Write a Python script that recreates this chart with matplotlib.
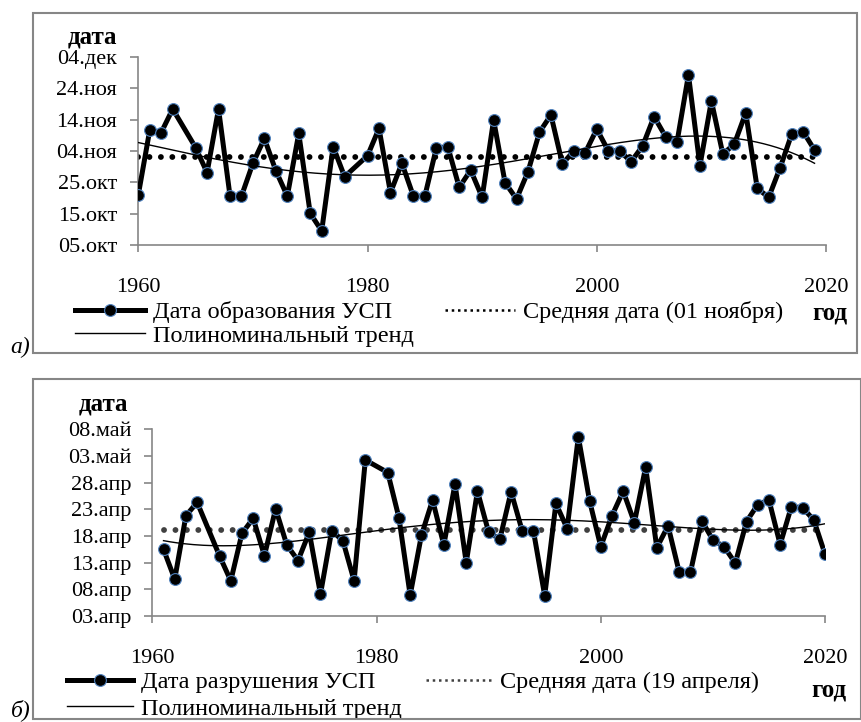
import numpy as np
import matplotlib.pyplot as plt
from matplotlib.lines import Line2D
from matplotlib.patches import Rectangle

plt.rcParams['font.family'] = ['Liberation Serif', 'DejaVu Serif']

# a) ice formation date, days after 05 Oct (nan = no data)
years_a = np.arange(1960, 2020)
form_days = np.array([
    16.0, 36.7, 35.9, 43.4, np.nan, 31.1, 23.1, 43.4, 15.7, 15.6,
    26.1, 34.0, 23.7, 15.6, 35.6, 10.1, 4.5, 31.4, 21.8, np.nan,
    28.5, 37.2, 16.7, 26.1, 15.6, 15.6, 30.9, 31.4, 18.4, 23.9,
    15.2, 39.9, 19.9, 14.7, 23.4, 36.0, 41.5, 25.9, 30.0, 29.5,
    37.0, 30.1, 30.0, 26.6, 31.6, 41.0, 34.6, 32.8, 54.3, 25.3,
    46.0, 29.0, 32.2, 42.2, 18.1, 15.2, 24.7, 35.3, 36.2, 30.3])
ticks_a = ['05.окт', '15.окт', '25.окт', '04.ноя', '14.ноя', '24.ноя', '04.дек']

# b) ice break-up date, days after 03 Apr
years_b = np.arange(1961, 2021)
break_days = np.array([
    12.5, 6.9, 18.8, 21.3, np.nan, 11.25, 6.6, 15.5, 18.3, 11.3,
    20.1, 13.3, 10.4, 15.7, 4.1, 16.0, 14.1, 6.6, 29.25, np.nan,
    26.9, 18.4, 3.9, 15.1, 21.75, 13.3, 24.75, 10.0, 23.4, 15.7,
    14.4, 23.3, 15.9, 15.9, 3.8, 21.1, 16.4, 33.6, 21.6, 13.0,
    18.8, 23.4, 17.5, 27.9, 12.8, 16.9, 8.2, 8.2, 17.9, 14.25,
    13.0, 9.9, 17.7, 20.9, 21.75, 13.4, 20.5, 20.3, 18.0, 11.6])
ticks_b = ['03.апр', '08.апр', '13.апр', '18.апр', '23.апр', '28.апр', '03.май', '08.май']

W, H = 862, 722
fig = plt.figure(figsize=(W / 100, H / 100), dpi=100)
grey = '#868686'


def px_axes(x0, x1, ytop, ybot):
    return fig.add_axes([x0 / W, 1 - ybot / H, (x1 - x0) / W, (ybot - ytop) / H])


def draw_panel(ax, years, vals, ticks, step, mean_color, deg):
    ok = ~np.isnan(vals)
    yrs, v = years[ok], vals[ok]
    mean = v.mean()
    ax.plot([yrs[0], yrs[-1]], [mean, mean], color=mean_color, lw=4.2,
            linestyle=(0, (0.01, 1.95)), dash_capstyle='round', zorder=2)
    ax.plot(yrs, v, color='black', lw=3.6, marker='o', ms=8.5, mfc='black',
            mec='#4f81bd', mew=0.8, zorder=3)
    # polynomial trend, as in the original spreadsheet
    coef = np.polyfit(yrs - 1990, v, deg)
    xt = np.linspace(yrs[0], yrs[-1], 200)
    ax.plot(xt, np.polyval(coef, xt - 1990), color='black', lw=1.0, zorder=4)

    ax.set_xlim(1960, 2020)
    ax.set_ylim(0, step * (len(ticks) - 1))
    ax.set_xticks([1960, 1980, 2000, 2020])
    ax.set_yticks(np.arange(len(ticks)) * step)
    ax.set_yticklabels(ticks)
    for s in ['top', 'right']:
        ax.spines[s].set_visible(False)
    for s in ['left', 'bottom']:
        ax.spines[s].set_color(grey)
        ax.spines[s].set_linewidth(1.2)
    ax.tick_params(axis='y', direction='out', length=5.8, width=1.2, color=grey,
                   pad=9.4, labelsize=16)
    ax.tick_params(axis='x', direction='out', length=5, width=1.2, color=grey,
                   pad=18.5, labelsize=16)


ax_a = px_axes(138.3, 826, 57, 245)
draw_panel(ax_a, years_a, form_days, ticks_a, 10, 'black', 4)
ax_b = px_axes(152.3, 825, 429.3, 616)
draw_panel(ax_b, years_b, break_days, ticks_b, 5, '#404040', 4)

# frames around both panels
fig.add_artist(Rectangle((33 / W, 1 - 353 / H), 824 / W, 340 / H, transform=fig.transFigure,
                         fill=False, edgecolor=grey, lw=1.5))
fig.add_artist(Rectangle((33 / W, 1 - 719 / H), 828 / W, 340 / H, transform=fig.transFigure,
                         fill=False, edgecolor=grey, lw=1.5))


def make_legend(ax, series_label, mean_label, x0, ytop, colsp, rowsp, hlen, mean_color):
    h_data = Line2D([], [], color='black', lw=3.6, marker='o', ms=8.5, mfc='black',
                    mec='#4f81bd', mew=0.8)
    h_trend = Line2D([], [], color='black', lw=1.0)
    h_mean = Line2D([], [], color=mean_color, lw=1.8, linestyle=(0, (1, 1.5)))
    ax.legend([h_data, h_trend, h_mean],
              [series_label, 'Полиноминальный тренд', mean_label],
              ncol=2, loc='upper left', bbox_to_anchor=(x0 / W, 1 - ytop / H),
              bbox_transform=fig.transFigure, frameon=False, borderpad=0,
              borderaxespad=0, handlelength=hlen, handletextpad=0.32,
              labelspacing=rowsp, columnspacing=colsp, fontsize=17.5)


make_legend(ax_a, 'Дата образования УСП', 'Средняя дата (01 ноября)', 75, 301, 1.3, 0.07,
            2.88, 'black')
make_legend(ax_b, 'Дата разрушения УСП', 'Средняя дата (19 апреля)', 67, 671, 1.0, 0.19,
            2.72, '#404040')

fig.text(92 / W, 1 - 37 / H, 'дата', fontsize=18, fontweight='bold', ha='center', va='center')
fig.text(103 / W, 1 - 404 / H, 'дата', fontsize=18, fontweight='bold', ha='center', va='center')
fig.text(830 / W, 1 - 313 / H, 'год', fontsize=18, fontweight='bold', ha='center', va='center')
fig.text(829 / W, 1 - 690 / H, 'год', fontsize=18, fontweight='bold', ha='center', va='center')
fig.text(20 / W, 1 - 347 / H, 'а)', fontsize=17, style='italic', ha='center', va='center')
fig.text(21 / W, 1 - 710 / H, 'б)', fontsize=17, style='italic', ha='center', va='center')

fig.savefig('out.png', dpi=100)
